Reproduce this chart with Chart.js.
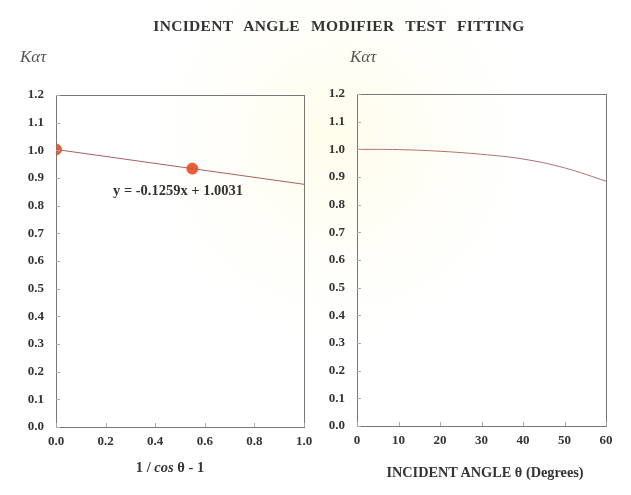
<!DOCTYPE html>
<html><head><meta charset="utf-8">
<script src="https://cdn.jsdelivr.net/npm/chart.js@4"></script>
<style>
html,body{margin:0;padding:0;background:#fff;}
#wrap{position:relative;width:631px;height:495px;overflow:hidden;background:radial-gradient(ellipse at 340px 140px, rgba(255,250,210,0.45) 0px, rgba(255,252,230,0.25) 110px, rgba(255,255,255,0) 190px);}
.c{position:absolute;top:0;}
.t{position:absolute;font-family:"Liberation Serif","DejaVu Serif",serif;color:#333;white-space:nowrap;}
</style></head><body>
<div id="wrap">
<canvas id="c1" class="c" style="left:0" width="320" height="495"></canvas>
<canvas id="c2" class="c" style="left:320px" width="311" height="495"></canvas>
<div class="t" style="left:0;width:678px;text-align:center;top:17px;font-size:15.5px;font-weight:bold;word-spacing:7px;letter-spacing:0.3px;">INCIDENT ANGLE MODIFIER TEST FITTING</div>
<div class="t" style="left:20px;top:47px;font-size:17px;font-style:italic;color:#555;">Kατ</div>
<div class="t" style="left:350px;top:47px;font-size:17px;font-style:italic;color:#555;">Kατ</div>
<div class="t" style="left:113px;top:182px;font-size:14.5px;font-weight:bold;">y = -0.1259x + 1.0031</div>
<div class="t" style="left:110px;width:120px;text-align:center;top:459px;font-size:14.5px;font-weight:bold;">1 / <i>cos</i> θ - 1</div>
<div class="t" style="left:375px;width:220px;text-align:center;top:464px;font-size:14.3px;font-weight:bold;">INCIDENT ANGLE θ (Degrees)</div>
</div>
<script>
// Left chart data
const fitX = [0.0, 1.0];
const fitY = [1.0031, 0.8772];
const testX = [0.0, 0.55];
const testY = [1.003, 0.934];
// Right chart data
const angles = [0, 10, 20, 30, 40, 50, 60];
const kValues = [1.000, 0.999, 0.993, 0.982, 0.965, 0.933, 0.885];
const yTicks = [0.0,0.1,0.2,0.3,0.4,0.5,0.6,0.7,0.8,0.9,1.0,1.1,1.2];

const tickFont = {family:'"Liberation Serif", serif', size:13, weight:'bold'};
const boxPlugin = {
  id:'box',
  afterDatasetsDraw(chart){
    const {ctx, chartArea:a, scales} = chart;
    ctx.save();
    ctx.strokeStyle='#777'; ctx.lineWidth=1;
    ctx.strokeRect(Math.round(a.left)+0.5, Math.round(a.top)+0.5, Math.round(a.right-a.left), Math.round(a.bottom-a.top));
    ctx.strokeStyle='#aaa';
    scales.x.ticks.forEach(t=>{ const px=Math.round(scales.x.getPixelForValue(t.value))+0.5; ctx.beginPath(); ctx.moveTo(px,a.bottom); ctx.lineTo(px,a.bottom-4); ctx.stroke();});
    scales.y.ticks.forEach(t=>{ const py=Math.round(scales.y.getPixelForValue(t.value))+0.5; ctx.beginPath(); ctx.moveTo(a.left,py); ctx.lineTo(a.left+4,py); ctx.stroke();});
    ctx.restore();
  }
};
function yScale(w){
  return {min:0,max:1.2,
    afterBuildTicks(s){ s.ticks = yTicks.map(v=>({value:v})); },
    afterFit(s){ s.width=w; },
    grid:{display:false,drawTicks:false}, border:{display:false},
    ticks:{font:tickFont,color:'#333',padding:12,callback:v=>Number(v).toFixed(1)}};
}
new Chart(document.getElementById('c1'), {
  type:'scatter',
  data:{datasets:[
    {type:'line',data:fitX.map((x,i)=>({x,y:fitY[i]})),borderColor:'#a86060',borderWidth:1,pointRadius:0,fill:false},
    {data:testX.map((x,i)=>({x,y:testY[i]})),backgroundColor:'#f05a32',borderColor:'#f05a32',pointRadius:5.5}
  ]},
  options:{responsive:false,animation:false,events:[],
    layout:{padding:{top:95,right:16,left:0,bottom:0}},
    plugins:{legend:{display:false},tooltip:{enabled:false}},
    scales:{
      x:{type:'linear',min:0,max:1.0,afterFit(s){s.height=68;},
        afterBuildTicks(s){ s.ticks=[0,0.2,0.4,0.6,0.8,1.0].map(v=>({value:v})); },
        grid:{display:false,drawTicks:false},border:{display:false},
        ticks:{font:tickFont,color:'#333',padding:7,maxRotation:0,callback:v=>Number(v).toFixed(1)}},
      y:yScale(56)
    }},
  plugins:[boxPlugin]
});
new Chart(document.getElementById('c2'), {
  type:'line',
  data:{datasets:[
    {data:angles.map((x,i)=>({x,y:kValues[i]})),borderColor:'#b07070',borderWidth:1,pointRadius:0,tension:0.4,fill:false}
  ]},
  options:{responsive:false,animation:false,events:[],
    layout:{padding:{top:94,right:25,left:0,bottom:0}},
    plugins:{legend:{display:false},tooltip:{enabled:false}},
    scales:{
      x:{type:'linear',min:0,max:60,afterFit(s){s.height=69;},
        afterBuildTicks(s){ s.ticks=[0,10,20,30,40,50,60].map(v=>({value:v})); },
        grid:{display:false,drawTicks:false},border:{display:false},
        ticks:{font:tickFont,color:'#333',padding:7,maxRotation:0}},
      y:yScale(37)
    }},
  plugins:[boxPlugin]
});
</script>
</body></html>
